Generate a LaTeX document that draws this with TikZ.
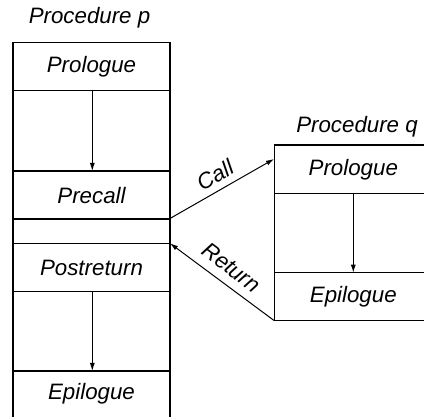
\documentclass[tikz,border=0pt]{standalone}
\usepackage{fontspec}
\setmainfont{Liberation Sans}
\usetikzlibrary{arrows.meta}
\begin{document}
\begin{tikzpicture}[x=1pt,y=-1pt,
  lbl/.style={font=\fontsize{22.3}{26}\selectfont\itshape, inner sep=0pt},
  box/.style={draw=black, line width=1.1pt},
  arr/.style={draw=black, line width=1pt, -{Latex[length=8pt,width=5pt]}}]
\useasboundingbox (0,0) rectangle (424,417);
\clip (0,0) rectangle (424,417);
% Procedure p
\node[lbl] (tp) at (89.5,17.5) {Procedure p};
\draw[box] (13,430) -- (13,42.7) -- (170,42.7) -- (170,430);
\draw[box] (13,90.7) -- (170,90.7);
\draw[box] (13,171) -- (170,171);
\draw[box] (13,219) -- (170,219);
\draw[box] (13,243.3) -- (170,243.3);
\draw[box] (13,291.7) -- (170,291.7);
\draw[box] (13,371) -- (170,371);
\node[lbl] (pp) at (91.5,67) {Prologue};
\node[lbl] (pc) at (91.5,195.5) {Precall};
\node[lbl] (pr) at (91.5,268) {Postreturn};
\node[lbl] (pe) at (91.5,393.5) {Epilogue};
\coordinate (p1) at (92.3,90.7);
\coordinate (p2) at (92.3,171);
\coordinate (p3) at (92.3,291.7);
\coordinate (p4) at (92.3,371);
\draw[arr] (p1) -- (p2);
\draw[arr] (p3) -- (p4);
% Procedure q
\node[lbl] (tq) at (357,127) {Procedure q};
\draw[box] (274.3,145) rectangle (432,320.7);
\draw[box] (274.3,193.3) -- (432,193.3);
\draw[box] (274.3,272.7) -- (432,272.7);
\node[lbl] (qp) at (353.3,169.5) {Prologue};
\node[lbl] (qe) at (353.3,297) {Epilogue};
\coordinate (q1) at (353.3,193.3);
\coordinate (q2) at (353.3,272.7);
\draw[arr] (q1) -- (q2);
% call / return
\coordinate (cs) at (170,218.5);
\coordinate (ce) at (274,159);
\coordinate (rs) at (274.3,320.7);
\coordinate (re) at (170,243.3);
\draw[arr] (cs) -- (ce);
\draw[arr] (rs) -- (re);
\node[lbl, rotate=30] (call) at (215,175) {Call};
\node[lbl, rotate=-36.5] (ret) at (231.5,267.5) {Return};
\end{tikzpicture}
\end{document}
